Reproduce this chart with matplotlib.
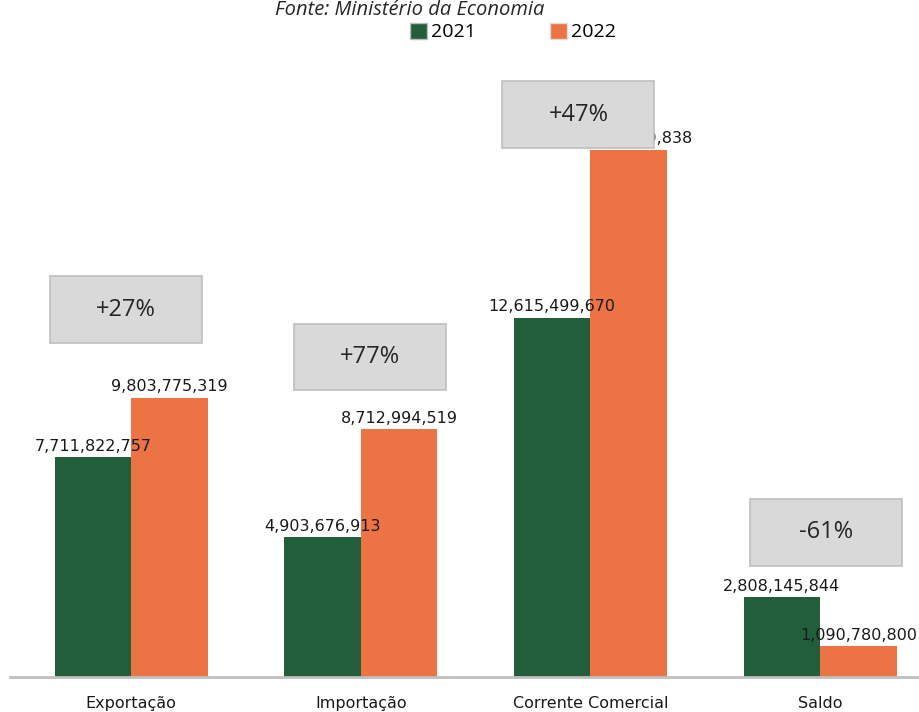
import matplotlib
matplotlib.use('Agg')
import matplotlib.pyplot as plt
import numpy as np
from matplotlib.patches import Rectangle, Patch

#data
categories = ['Exportação', 'Importação', 'Corrente Comercial', 'Saldo']
v2021 = [7711822757, 4903676913, 12615499670, 2808145844]
v2022 = [9803775319, 8712994519, 18516769838, 1090780800]
changes = ['+27%', '+77%', '+47%', '-61%']
years = ['2021', '2022']

green = '#225E3A'
orange = '#EC7344'

fig = plt.figure(figsize=(9.2, 7.12), dpi=100)
ax = fig.add_axes([10/920, 35/712, 910/920, 677/712])

x = np.arange(len(categories))
w = 0.333
ax.bar(x - w/2, v2021, w, color=green, zorder=2)
ax.bar(x + w/2, v2022, w, color=orange, zorder=2)

ax.set_xlim(-0.527, 3.435)
ax.set_ylim(0, 23.78e9)

#value labels above each bar
for i in range(len(categories)):
    ax.text(x[i] - w/2, v2021[i] + 0.12e9, f'{v2021[i]:,}', ha='center', va='bottom',
            fontsize=11.5, color='#1a1a1a', zorder=3)
    ax.text(x[i] + w/2, v2022[i] + 0.12e9, f'{v2022[i]:,}', ha='center', va='bottom',
            fontsize=11.5, color='#1a1a1a', zorder=3)

#grey change boxes
box_pos = [(-0.024, 12.9e9), (1.04, 11.24e9), (1.948, 19.75e9), (3.026, 5.09e9)]
bw, bh = 0.662, 2.35e9
for (cx, cy), txt in zip(box_pos, changes):
    ax.add_patch(Rectangle((cx - bw/2, cy - bh/2), bw, bh, facecolor='#d9d9d9',
                           edgecolor='#bfbfbf', linewidth=1.2, zorder=5, clip_on=False))
    ax.text(cx, cy, txt, ha='center', va='center', fontsize=17, family='Open Sans',
            color='#262626', zorder=6)

for s in ['top', 'right', 'left']:
    ax.spines[s].set_visible(False)
ax.spines['bottom'].set_color('#bfbfbf')
ax.spines['bottom'].set_linewidth(2)
ax.set_yticks([])
ax.set_xticks(x)
ax.set_xticklabels(categories, fontsize=11.5, color='#1a1a1a')
ax.tick_params(axis='x', length=0, pad=14)

fig.text(410/920, 1 - 15/712, 'Fonte: Ministério da Economia', ha='center', va='baseline',
         fontsize=14.5, style='italic', family='Open Sans', color='#262626')

handles = [Patch(facecolor=green, edgecolor='#bbbbbb'), Patch(facecolor=orange, edgecolor='#dddddd')]
fig.legend(handles, years, loc='center', bbox_to_anchor=(513/920, 1 - 32/712), ncol=2,
           frameon=False, handlelength=0.9, handleheight=0.9, borderpad=0.1,
           handletextpad=0.2, columnspacing=3.8, prop={'family': 'Open Sans', 'size': 14})

plt.savefig('out.png', dpi=100)
